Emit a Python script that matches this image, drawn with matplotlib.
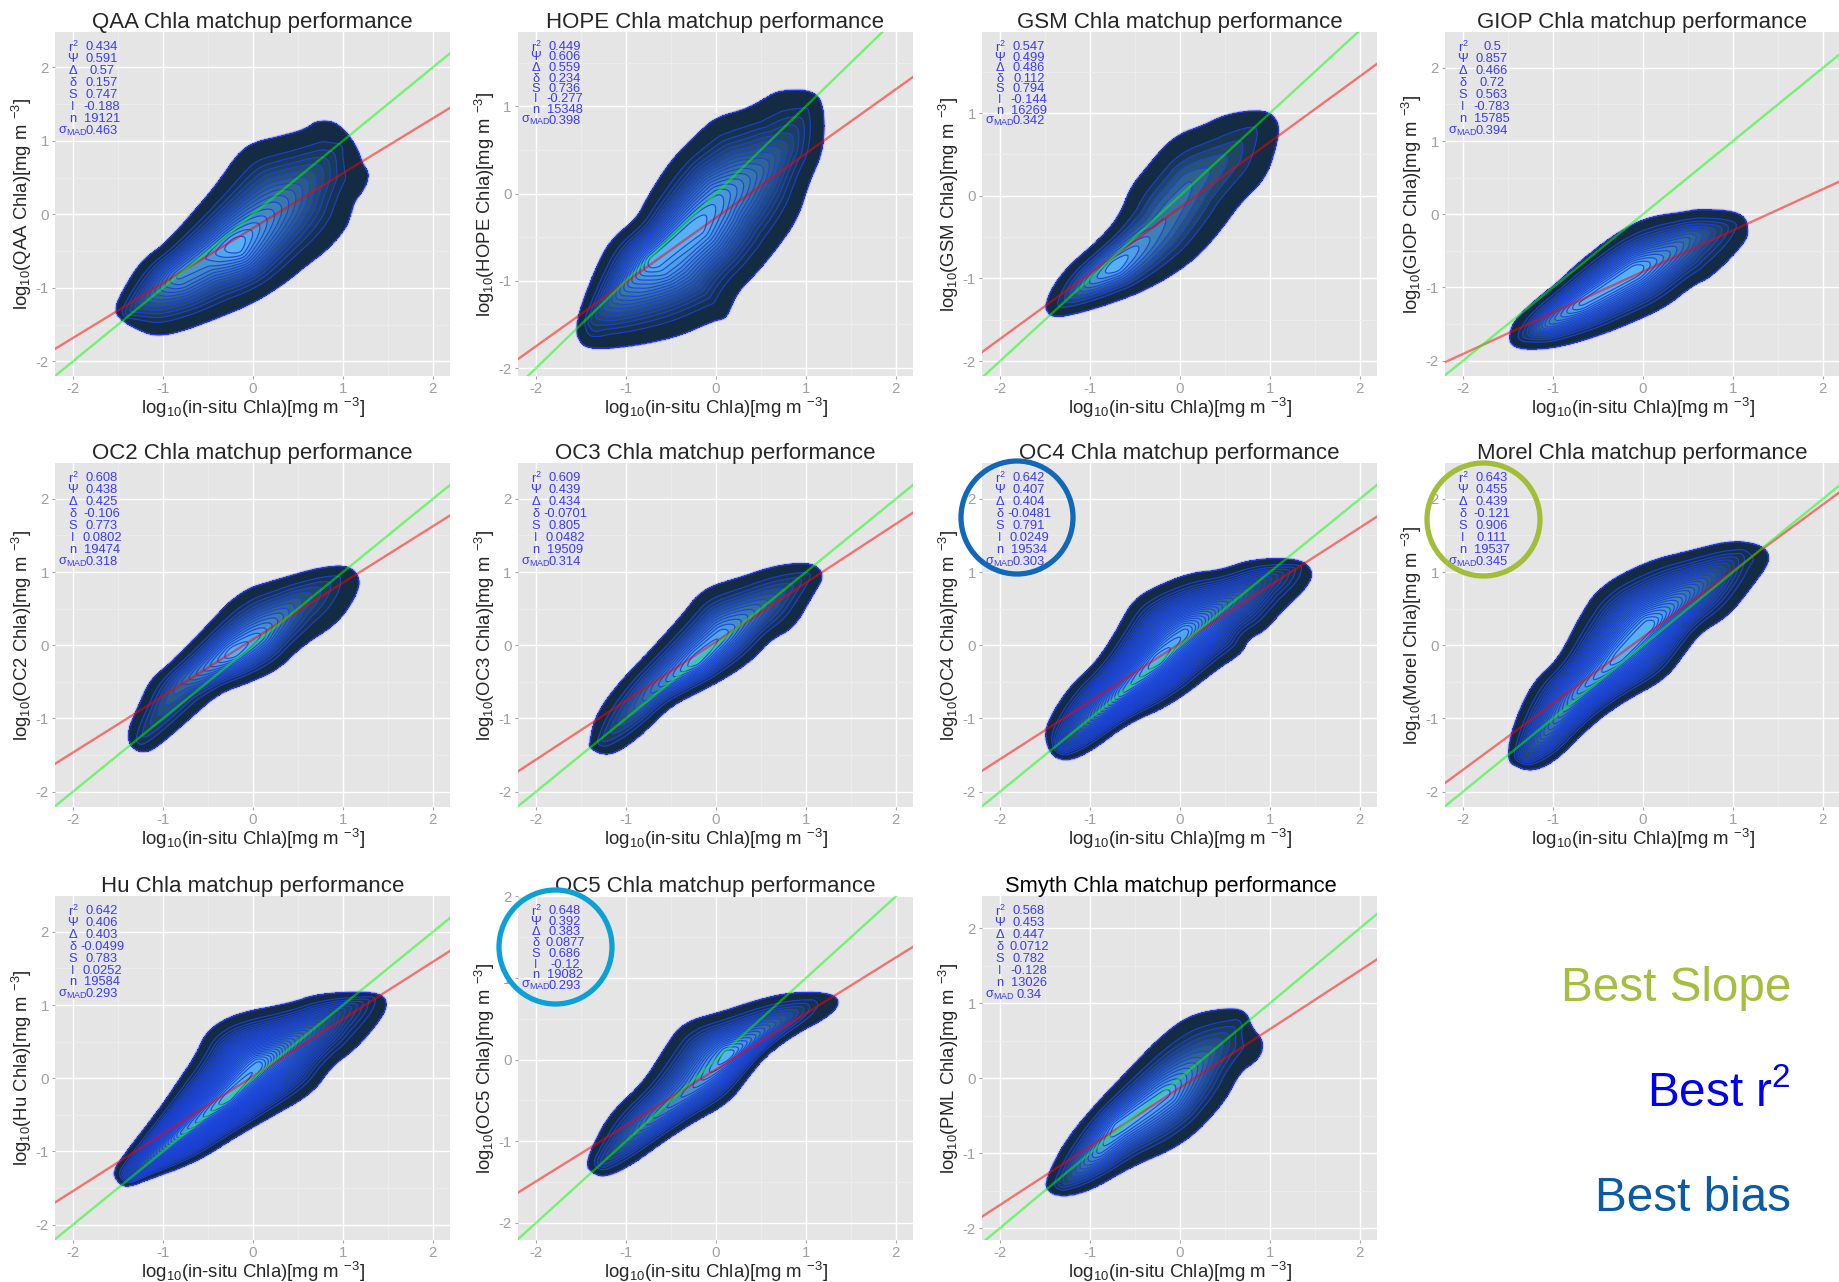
import numpy as np
import matplotlib
matplotlib.use("Agg")
import matplotlib.pyplot as plt
from matplotlib.path import Path
from matplotlib.patches import Ellipse
from matplotlib.transforms import Affine2D
from matplotlib.colors import to_rgb

W, H = 1839, 1282
plt.rcParams['font.family'] = ['Liberation Sans', 'DejaVu Sans']
plt.rcParams['mathtext.fontset'] = 'custom'
plt.rcParams['mathtext.rm'] = 'Liberation Sans'
plt.rcParams['mathtext.it'] = 'Liberation Sans'
plt.rcParams['mathtext.default'] = 'regular'

stat_labels = ["r$^2$", "Ψ", "Δ", "δ", "S", "I", "n", "σ$_{MAD}$"]

# ---- statistics (r2, psi, Delta, delta, S, I, n, sigma)
qaa_stats = ["0.434", "0.591", "0.57", "0.157", "0.747", "-0.188", "19121", "0.463"]
hope_stats = ["0.449", "0.606", "0.559", "0.234", "0.736", "-0.277", "15348", "0.398"]
gsm_stats = ["0.547", "0.499", "0.486", "0.112", "0.794", "-0.144", "16269", "0.342"]
giop_stats = ["0.5", "0.857", "0.466", "0.72", "0.563", "-0.783", "15785", "0.394"]
oc2_stats = ["0.608", "0.438", "0.425", "-0.106", "0.773", "0.0802", "19474", "0.318"]
oc3_stats = ["0.609", "0.439", "0.434", "-0.0701", "0.805", "0.0482", "19509", "0.314"]
oc4_stats = ["0.642", "0.407", "0.404", "-0.0481", "0.791", "0.0249", "19534", "0.303"]
morel_stats = ["0.643", "0.455", "0.439", "-0.121", "0.906", "0.111", "19537", "0.345"]
hu_stats = ["0.642", "0.406", "0.403", "-0.0499", "0.783", "0.0252", "19584", "0.293"]
oc5_stats = ["0.648", "0.392", "0.383", "0.0877", "0.686", "-0.12", "19082", "0.293"]
smyth_stats = ["0.568", "0.453", "0.447", "0.0712", "0.782", "-0.128", "13026", "0.34"]

# ---- density outlines (x, y in data units)
qaa_outline = [(-1.54,-1.30),(-1.43,-1.0),(-1.23,-.62),(-.96,-.39),(-.52,.23),(-.35,.50),(-.17,.82),(0,.98),(.33,1.07),(.59,1.16),(.70,1.27),(.89,1.27),(1.04,1.12),(1.17,.87),(1.22,.68),(1.30,.55),(1.24,.34),(1.13,.18),(1.09,0),(1.04,-.18),(.85,-.46),(.56,-.73),(.33,-.96),(0,-1.21),(-.41,-1.42),(-.81,-1.60),(-1.07,-1.66),(-1.26,-1.58),(-1.46,-1.44)]
hope_outline = [(-1.55,-1.56),(-1.51,-1.33),(-1.34,-.87),(-1.18,-.54),(-.88,-.29),(-.77,-.06),(-.51,.37),(-.21,.68),(-.01,.87),(.34,.97),(.53,1.08),(.71,1.19),(1.12,1.18),(1.21,.91),(1.19,.48),(1.04,.14),(.91,-.29),(.67,-.64),(.45,-.91),(.23,-1.14),(.12,-1.43),(.01,-1.45),(-.14,-1.51),(-.29,-1.58),(-.51,-1.66),(-.88,-1.74),(-1.25,-1.78),(-1.46,-1.76),(-1.53,-1.66)]
gsm_outline = [(-1.49,-1.32),(-1.42,-1.11),(-1.22,-.83),(-.85,-.49),(-.66,-.22),(-.55,.10),(-.37,.34),(-.18,.59),(0,.75),(.26,.85),(.48,.97),(.77,1.03),(1.0,1.01),(1.11,.85),(1.07,.59),(.96,.22),(.66,-.10),(.48,-.38),(.22,-.71),(-.07,-.95),(-.41,-1.15),(-.77,-1.30),(-1.14,-1.42),(-1.40,-1.47),(-1.48,-1.40)]
giop_outline = [(-1.49,-1.70),(-1.44,-1.47),(-1.22,-1.20),(-.96,-.95),(-.70,-.65),(-.33,-.29),(.04,-.04),(.48,.03),(.63,.07),(1.11,.03),(1.18,-.24),(1.11,-.42),(.77,-.85),(.55,-.97),(.26,-1.26),(-.11,-1.47),(-.48,-1.65),(-.92,-1.81),(-1.25,-1.85),(-1.44,-1.81)]
oc2_outline = [(-1.40,-1.20),(-1.27,-.83),(-1.14,-.47),(-.91,-.24),(-.58,.17),(-.15,.74),(.28,.90),(.74,1.06),(1.07,1.09),(1.20,.90),(1.13,.63),(.93,.29),(.54,-.01),(.28,-.33),(-.05,-.51),(-.38,-.65),(-.71,-1.01),(-.97,-1.29),(-1.17,-1.47),(-1.34,-1.42)]
oc3_outline = [(-1.40,-1.33),(-1.34,-.97),(-1.11,-.56),(-.71,-.05),(-.38,.40),(-.15,.77),(.28,.93),(.67,1.09),(1.07,1.13),(1.21,.95),(1.07,.68),(.87,.24),(.61,.08),(.41,-.19),(.14,-.42),(-.18,-.63),(-.51,-.83),(-.84,-1.24),(-1.11,-1.47),(-1.27,-1.49),(-1.40,-1.40)]
oc4_outline = [(-1.50,-1.25),(-1.46,-1.02),(-1.23,-.57),(-.94,-.25),(-.72,.16),(-.53,.61),(-.27,.80),(.12,.99),(.44,1.02),(.82,1.18),(1.33,1.18),(1.49,1.0),(1.40,.77),(1.14,.48),(.95,.20),(.76,.09),(.69,-.11),(.44,-.30),(-.08,-.80),(-.59,-1.07),(-.97,-1.43),(-1.23,-1.58),(-1.42,-1.52)]
morel_outline = [(-1.50,-1.56),(-1.46,-1.15),(-1.23,-.51),(-.94,-.20),(-.72,.35),(-.49,.80),(.05,1.15),(.56,1.30),(.98,1.43),(1.33,1.37),(1.43,1.17),(1.21,.80),(.95,.40),(.63,.17),(.44,-.15),(.24,-.47),(-.21,-.76),(-.59,-1.10),(-.97,-1.58),(-1.23,-1.72),(-1.42,-1.65)]
hu_outline = [(-1.55,-1.29),(-1.47,-1.11),(-1.04,-.43),(-.84,-.06),(-.64,.30),(-.51,.66),(-.18,.89),(.41,1.02),(.74,1.16),(1.39,1.18),(1.51,1.02),(1.39,.75),(1.13,.39),(.87,.16),(.67,-.20),(.21,-.52),(-.18,-.79),(-.64,-1.15),(-1.17,-1.38),(-1.40,-1.49),(-1.50,-1.42)]
oc5_outline = [(-1.43,-1.27),(-1.37,-1.06),(-1.17,-.65),(-.81,-.29),(-.58,.12),(-.38,.45),(.08,.59),(.41,.71),(.80,.82),(1.26,.82),(1.39,.71),(1.26,.53),(.87,.31),(.54,.04),(.34,-.24),(.14,-.53),(-.25,-.76),(-.58,-1.0),(-.97,-1.31),(-1.24,-1.44),(-1.40,-1.37)]
smyth_outline = [(-1.50,-1.44),(-1.42,-1.17),(-1.23,-.77),(-.91,-.32),(-.59,.08),(-.21,.56),(.12,.85),(.56,.94),(.74,.88),(.79,.68),(.94,.48),(.88,.25),(.66,.08),(.50,-.32),(.05,-.88),(-.53,-1.17),(-.97,-1.48),(-1.23,-1.57),(-1.42,-1.55)]

# ---- density ridges: (x, y, relative density) along the densest part of each cloud
qaa_ridge = [(-1.4,-1.35,.15),(-.85,-.87,.75),(-.52,-.6,.8),(-.19,-.42,1),(.26,.09,.65),(.63,.5,.35),(.95,.9,.08)]
hope_ridge = [(-1.35,-1.45,.2),(-.70,-.79,1),(-.21,-.37,1),(.05,-.05,.85),(.45,.25,.55),(.75,.55,.3),(1.0,.95,.06)]
gsm_ridge = [(-1.3,-1.3,.15),(-1.0,-1.05,.7),(-.72,-.85,1),(-.26,-.43,.62),(.11,.14,.5),(.55,.5,.28),(.92,.91,.05)]
giop_ridge = [(-1.3,-1.65,.15),(-1.07,-1.51,.6),(-.70,-1.23,.95),(-.07,-.76,1),(.22,-.58,.75),(.52,-.33,.5),(1.0,-.15,.08)]
oc2_ridge = [(-1.25,-1.3,.12),(-.78,-.51,.5),(-.22,-.10,1),(.08,.15,.85),(.47,.58,.4),(1.0,.95,.05)]
oc3_ridge = [(-1.25,-1.3,.15),(-.68,-.6,.6),(-.22,-.21,1),(.08,.15,.9),(.54,.58,.45),(1.07,1.0,.05)]
oc4_ridge = [(-1.3,-1.35,.25),(-.65,-.66,.85),(-.24,-.2,1),(.08,.2,.9),(.44,.52,.55),(.95,.89,.25),(1.33,1.07,.05)]
morel_ridge = [(-1.3,-1.5,.25),(-1.1,-1.24,.5),(-.72,-.65,.8),(-.27,-.17,1),(.08,.28,1),(.5,.71,.6),(1.08,1.21,.1)]
hu_ridge = [(-1.35,-1.32,.25),(-.81,-.77,.8),(-.28,-.27,1),(.08,.19,.95),(.41,.48,.6),(.93,.89,.25),(1.33,1.09,.05)]
oc5_ridge = [(-1.25,-1.25,.2),(-.71,-.73,.6),(-.28,-.37,.75),(.14,.06,1),(.54,.37,.55),(1.07,.69,.08)]
smyth_ridge = [(-1.3,-1.42,.2),(-.91,-.99,.8),(-.69,-.66,1),(-.14,-.19,.95),(.24,.25,.5),(.63,.7,.12)]

titles = ["QAA", "HOPE", "GSM", "GIOP", "OC2", "OC3", "OC4", "Morel", "Hu", "OC5", "Smyth"]
ylabels = ["QAA", "HOPE", "GSM", "GIOP", "OC2", "OC3", "OC4", "Morel", "Hu", "OC5", "PML"]
stats = [qaa_stats, hope_stats, gsm_stats, giop_stats, oc2_stats, oc3_stats, oc4_stats,
         morel_stats, hu_stats, oc5_stats, smyth_stats]
outlines = [qaa_outline, hope_outline, gsm_outline, giop_outline, oc2_outline, oc3_outline,
            oc4_outline, morel_outline, hu_outline, oc5_outline, smyth_outline]
ridges = [qaa_ridge, hope_ridge, gsm_ridge, giop_ridge, oc2_ridge, oc3_ridge, oc4_ridge,
          morel_ridge, hu_ridge, oc5_ridge, smyth_ridge]
y_limits = [(-2.2, 2.48), (-2.09, 1.85), (-2.18, 1.98), (-2.21, 2.49), (-2.21, 2.49), (-2.21, 2.49),
            (-2.21, 2.49), (-2.21, 2.49), (-2.21, 2.49), (-2.21, 2.005), (-2.16, 2.43)]
n_levels = [16, 18, 10, 16, 14, 14, 28, 24, 30, 18, 14]
stat_step = [12, 10.5, 10.6, 12, 12, 12, 12, 12, 11.9, 10.7, 12]

col_left = [55, 518, 982, 1445]
row_top = [32, 463, 896]
panel_w, panel_h = 395, 344

fig = plt.figure(figsize=(W / 100, H / 100), dpi=100, facecolor='white')
PX = Affine2D().scale(1 / W, -1 / H).translate(0, 1) + fig.transFigure


def chaikin(pts, n=3):
    p = np.asarray(pts, float)
    for _ in range(n):
        q = np.roll(p, -1, axis=0)
        p = np.stack([0.75 * p + 0.25 * q, 0.25 * p + 0.75 * q], axis=1).reshape(-1, 2)
    return p


def seg_dist(P, A, B):
    d = B - A
    t = np.clip(((P - A) @ d) / max(d @ d, 1e-9), 0, 1)
    return np.hypot(*np.moveaxis(P - A - t[..., None] * d, -1, 0)), t


def blur(f, passes=2):
    for _ in range(passes):
        f = (f + np.roll(f, 1, 0) + np.roll(f, -1, 0) + np.roll(f, 1, 1) + np.roll(f, -1, 1)
             + np.roll(f, 2, 0) + np.roll(f, -2, 0) + np.roll(f, 2, 1) + np.roll(f, -2, 1)) / 9
    return f


def density(outline, ridge, xlim, ylim):
    sx = panel_w / (xlim[1] - xlim[0])
    sy = panel_h / (ylim[1] - ylim[0])
    gx = np.linspace(xlim[0], xlim[1], 330)
    gy = np.linspace(ylim[0], ylim[1], 330)
    X, Y = np.meshgrid(gx, gy)
    P = np.stack([X * sx, Y * sy], axis=-1)
    poly = chaikin(outline) * [sx, sy]
    d_o = np.full(X.shape, np.inf)
    for a, b in zip(poly, np.roll(poly, -1, axis=0)):
        d_o = np.minimum(d_o, seg_dist(P, a, b)[0])
    inside = Path(poly).contains_points(P.reshape(-1, 2)).reshape(X.shape)
    r = np.asarray(ridge, float)
    d_r = np.full(X.shape, np.inf)
    h = np.zeros(X.shape)
    for i in range(len(r) - 1):
        d, t = seg_dist(P, r[i, :2] * [sx, sy], r[i + 1, :2] * [sx, sy])
        m = d < d_r
        d_r[m] = d[m]
        h[m] = (r[i, 2] + t * (r[i + 1, 2] - r[i, 2]))[m]
    u = (d_o / (d_o + d_r + 1e-6)) ** 1.2
    f = blur(h, 3) * u * u * (3 - 2 * u)
    f = blur(f, 1)
    f[~inside] = -1e-3 * d_o[~inside]
    return X, Y, f


low, high = np.array(to_rgb('#132B43')), np.array(to_rgb('#56B1F7'))

for i in range(11):
    left = col_left[i % 4]
    top = row_top[i // 4]
    ax = fig.add_axes([left / W, 1 - (top + panel_h) / H, panel_w / W, panel_h / H])
    xlim = (-2.2, 2.19)
    ylim = y_limits[i]
    ax.set_xlim(xlim)
    ax.set_ylim(ylim)
    ax.set_facecolor('#E5E5E5')
    for s in ax.spines.values():
        s.set_visible(False)
    ax.set_axisbelow(True)
    ax.set_xticks([-2, -1, 0, 1, 2], ['-2', '-1', '0', '1', '2'])
    yt = [v for v in [-2, -1, 0, 1, 2] if ylim[0] <= v <= ylim[1]]
    ax.set_yticks(yt, [str(v) for v in yt])
    ax.set_xticks([-1.5, -.5, .5, 1.5], minor=True)
    ax.set_yticks([v + .5 for v in [-2, -1, 0, 1, 2] if ylim[0] <= v + .5 <= ylim[1]], minor=True)
    ax.grid(True, which='major', color='white', lw=1.0)
    ax.grid(True, which='minor', color='#EEEEEE', lw=.6)
    ax.tick_params(which='minor', length=0)
    ax.tick_params(which='major', length=2.5, width=.8, color='#a5a5a5', labelcolor='#a0a0a0',
                   labelsize=10.8, pad=2)

    X, Y, f = density(outlines[i], ridges[i], xlim, ylim)
    n = n_levels[i]
    levels = np.linspace(0, f.max(), n + 1)
    cols = [tuple(low + (high - low) * (k / (n - 1)) ** 1.1) for k in range(n)]
    ax.contourf(X, Y, f, levels=levels, colors=cols, zorder=3)
    ax.contour(X, Y, f, levels=levels[1:-1], colors='#1A40DC', linewidths=.85, alpha=.9, zorder=3.2)
    ax.contour(X, Y, f, levels=[0], colors='#3A45FF', linewidths=2.4, alpha=.22, zorder=2.9)
    ax.contour(X, Y, f, levels=[0], colors='#2838F0', linewidths=.9, zorder=3.3)

    xs = np.array(xlim)
    slope, intercept = float(stats[i][4]), float(stats[i][5])
    ax.plot(xs, slope * xs + intercept, color='#FF0000', alpha=.5, lw=1.7, zorder=4)
    ax.plot(xs, xs, color='#00FF00', alpha=.5, lw=1.7, zorder=4.1)

    fig.text(left + panel_w / 2 + (-9 if i == 10 else 0), top - 9.5,
             f"{titles[i]} Chla matchup performance", transform=PX, ha='center', va='center',
             fontsize=15.75 if i == 10 else 16, color='black' if i == 10 else '#262626')
    fig.text(left + panel_w / 2, top + panel_h + 32, "log$_{10}$(in-situ Chla)[mg m $^{-3}$]",
             transform=PX, ha='center', va='center', fontsize=13.4, color='#262626')
    fig.text(left - 33, top + panel_h / 2, f"log$_{{10}}$({ylabels[i]} Chla)[mg m $^{{-3}}$]",
             transform=PX, ha='center', va='center', rotation=90, fontsize=13.3, color='#262626')

    for k, (lab, val) in enumerate(zip(stat_labels, stats[i])):
        y = top + 15 + k * stat_step[i]
        fig.text(left + 18, y, lab, transform=PX, ha='center', va='center', fontsize=9.3,
                 color='#3A3AFF', zorder=6)
        fig.text(left + 47, y, val, transform=PX, ha='center', va='center', fontsize=9.3,
                 color='#3A3AFF', zorder=6)

# ---- highlight circles and legend text
for (cx, cy, w, h, c) in [(1017, 517.5, 112, 113, '#1268B8'),
                          (1483.5, 519.5, 113, 113, '#A2BD3A'),
                          (555.5, 947, 113, 114, '#0BA0D8')]:
    fig.add_artist(Ellipse((cx, cy), w, h, transform=PX, fill=False, edgecolor=c, lw=3.8, zorder=10))

for (txt, y, c) in [("Best Slope", 1001, '#A4BF3F'), ("Best r$^{2}$", 1106, '#0000F0'),
                    ("Best bias", 1211, '#0B5AA6')]:
    fig.text(1791, y, txt, transform=PX, ha='right', va='baseline', fontsize=34.3, color=c)

fig.savefig('out.png', dpi=100, facecolor='white')
